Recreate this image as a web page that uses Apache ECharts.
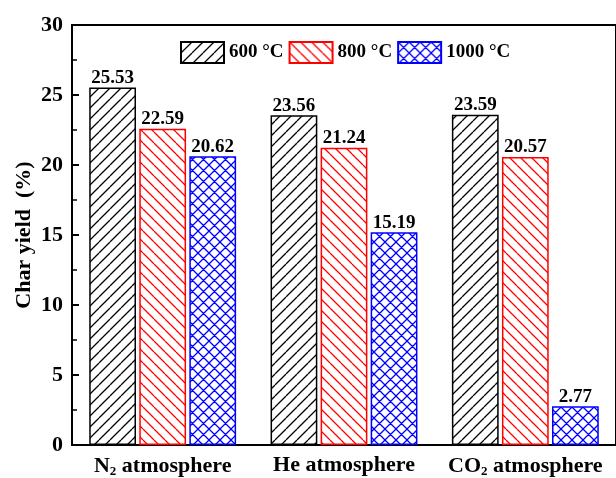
<!DOCTYPE html>
<html><head><meta charset="utf-8">
<script src="https://cdn.jsdelivr.net/npm/echarts@6/dist/echarts.min.js"></script>
<style>html,body{margin:0;padding:0;background:#fff}#c{width:616px;height:478px}</style>
</head><body><div id="c"></div>
<script>
const categories = ['N{sub|2} atmosphere', 'He atmosphere', 'CO{sub|2} atmosphere'];
const seriesNames = ['600 °C', '800 °C', '1000 °C'];
const yield600 = [25.53, 23.56, 23.59];
const yield800 = [22.59, 21.24, 20.57];
const yield1000 = [20.62, 15.19, 2.77];
const yTicks = [0, 5, 10, 15, 20, 25, 30];

const FONT = '"Liberation Serif", "Times New Roman", serif';

function makePattern(type, color, size) {
  const c = document.createElement('canvas');
  c.width = size; c.height = size;
  const ctx = c.getContext('2d');
  ctx.fillStyle = '#fff';
  ctx.fillRect(0, 0, size, size);
  ctx.strokeStyle = color;
  ctx.lineWidth = 1.3;
  ctx.beginPath();
  for (let k = -1; k <= 1; k++) {
    if (type.indexOf('/') >= 0) {
      ctx.moveTo(k * size, size); ctx.lineTo(k * size + size, 0);
    }
    if (type.indexOf('\\') >= 0) {
      ctx.moveTo(k * size, 0); ctx.lineTo(k * size + size, size);
    }
  }
  ctx.stroke();
  return { image: c, repeat: 'repeat' };
}

const styles = [
  { pat: makePattern('/', '#000', 11), border: '#000' },
  { pat: makePattern('\\', '#ff0000', 11), border: '#ff0000' },
  { pat: makePattern('/\\', '#0000ff', 11), border: '#0000ff' }
];
const dataSets = [yield600, yield800, yield1000];

const chart = echarts.init(document.getElementById('c'), null, { renderer: 'canvas' });
chart.setOption({
  backgroundColor: '#fff',
  animation: false,
  textStyle: { fontFamily: FONT, fontWeight: 'bold', color: '#000' },
  legend: {
    top: 36, left: 175,
    icon: 'rect',
    itemWidth: 43, itemHeight: 21, itemGap: 5,
    textStyle: { fontFamily: FONT, fontWeight: 'bold', fontSize: 19, color: '#000' },
    data: seriesNames
  },
  grid: { left: 72, right: -1, top: 25, bottom: 31, show: true, borderColor: '#000', borderWidth: 2, backgroundColor: 'transparent' },
  xAxis: {
    type: 'category',
    data: categories,
    axisTick: { show: false },
    axisLine: { lineStyle: { color: '#000', width: 2 } },
    axisLabel: {
      interval: 0,
      margin: 9,
      rich: {
        sub: { fontFamily: FONT, fontWeight: 'bold', fontSize: 13, color: '#000', padding: [11, 0, 0, 0] }
      },
      fontFamily: FONT, fontWeight: 'bold', fontSize: 22, color: '#000'
    }
  },
  yAxis: {
    type: 'value', min: 0, max: 30, interval: 5,
    name: 'Char yield  (%)', nameLocation: 'middle', nameGap: 37, nameMoveOverlap: false,
    nameTextStyle: { fontFamily: FONT, fontWeight: 'bold', fontSize: 22, color: '#000' },
    axisLine: { show: true, lineStyle: { color: '#000', width: 2 } },
    axisTick: { show: true, inside: true, length: 7, lineStyle: { color: '#000', width: 2 } },
    minorTick: { show: true, splitNumber: 2, length: 5, lineStyle: { color: '#000', width: 1.5 } },
    splitLine: { show: false },
    axisLabel: {
      margin: 9,
      fontFamily: FONT, fontWeight: 'bold', fontSize: 22, color: '#000',
      formatter: v => (yTicks.indexOf(v) >= 0 ? String(v) : '')
    }
  },
  series: seriesNames.map((name, i) => ({
    name: name,
    type: 'bar',
    data: dataSets[i],
    barGap: '7%',
    barCategoryGap: '19%',
    itemStyle: { color: styles[i].pat, borderColor: styles[i].border, borderWidth: 1.5 },
    label: {
      show: true, position: 'top', distance: 0,
      fontFamily: FONT, fontWeight: 'bold', fontSize: 19, color: '#000',
      formatter: p => p.value.toFixed(2)
    }
  }))
});
</script></body></html>
